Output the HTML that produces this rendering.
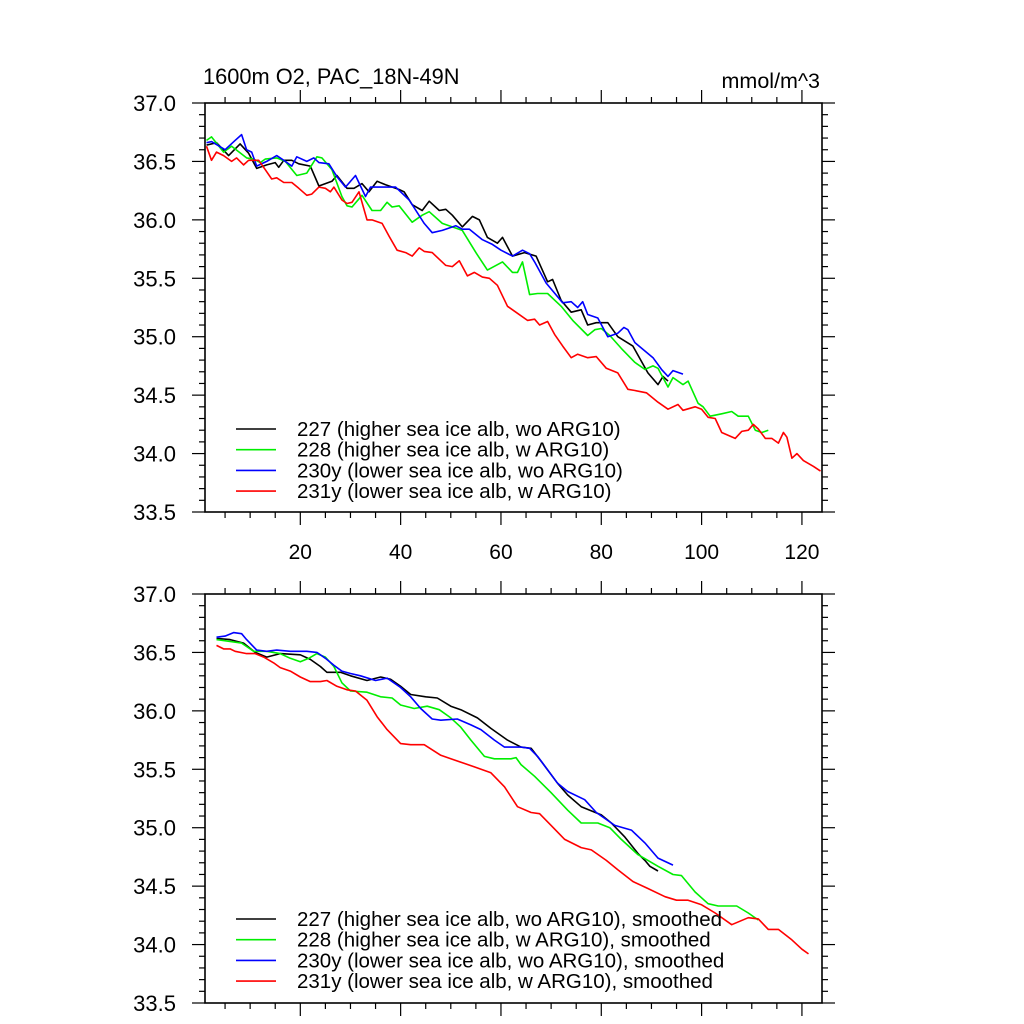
<!DOCTYPE html>
<html><head><meta charset="utf-8"><style>
html,body{margin:0;padding:0;background:#fff;}
svg{display:block;font-family:"Liberation Sans",Helvetica,sans-serif;}
</style></head><body>
<svg id="chart" width="1024" height="1024" viewBox="0 0 1024 1024" xmlns="http://www.w3.org/2000/svg"></svg>
<script>
// ---- data: [x, value] pairs ----
const top227 = [[1.3,36.64],[3.3,36.66],[5.7,36.55],[8,36.65],[9.7,36.57],[11.3,36.44],[13.3,36.47],[15,36.49],[15.7,36.45],[16.7,36.51],[18.3,36.51],[19.7,36.48],[22,36.46],[23.7,36.29],[26.3,36.33],[27.3,36.38],[29.3,36.27],[30.7,36.27],[32.3,36.31],[33.7,36.24],[35.3,36.33],[37,36.30],[39.7,36.26],[40.7,36.24],[42.3,36.13],[44.3,36.08],[45.7,36.16],[47.7,36.08],[49,36.09],[50.3,36.04],[52.3,35.94],[54.3,36.03],[55.7,36.0],[57.3,35.85],[59.3,35.80],[60.3,35.85],[62.3,35.69],[64.7,35.72],[67,35.69],[69.3,35.47],[70.3,35.49],[72,35.31],[74,35.21],[76,35.23],[77.3,35.10],[79,35.12],[81.3,35.12],[83.3,35.0],[86.3,34.92],[89.3,34.69],[91.3,34.59],[92.3,34.66],[93.3,34.62]];
const top228 = [[1.3,36.68],[2.3,36.71],[4.7,36.58],[6.3,36.63],[9.3,36.53],[10.7,36.52],[12,36.49],[13,36.52],[15.3,36.53],[17,36.50],[19.3,36.38],[21.3,36.40],[23.3,36.54],[24.3,36.53],[26.3,36.43],[28.3,36.20],[29.3,36.12],[30.3,36.11],[32.3,36.21],[34.3,36.08],[36,36.08],[37.3,36.15],[38.3,36.11],[39.7,36.12],[42.3,35.98],[44.3,36.04],[45.7,36.07],[48.3,35.97],[50.3,35.94],[52.3,35.91],[55,35.72],[57.3,35.57],[60.3,35.64],[62.3,35.55],[63.3,35.55],[64.3,35.64],[65.7,35.36],[67.3,35.37],[69.3,35.37],[72,35.26],[74.3,35.14],[77.3,35.01],[78.7,35.06],[80,35.07],[81.7,35.01],[84,34.90],[86.7,34.78],[88.7,34.72],[90.3,34.75],[91.3,34.73],[93.3,34.57],[94.3,34.65],[96.3,34.59],[97.3,34.62],[99.3,34.43],[100.3,34.40],[101.7,34.32],[104,34.34],[106,34.36],[107.3,34.32],[109.3,34.32],[110.7,34.20],[112,34.18],[113.3,34.20]];
const top230 = [[1.3,36.66],[2.3,36.67],[5,36.60],[7,36.68],[8.3,36.73],[9.3,36.60],[10.3,36.58],[11.3,36.46],[13.3,36.50],[15.3,36.55],[16.7,36.51],[18.3,36.46],[19.3,36.54],[21.3,36.50],[22.7,36.53],[23.7,36.49],[25.7,36.48],[27.3,36.37],[29,36.28],[31,36.38],[33,36.20],[34,36.28],[39,36.28],[41.7,36.17],[44.7,35.97],[46.3,35.89],[48.3,35.91],[51,35.95],[52.3,35.92],[53.7,35.92],[56.3,35.83],[58.3,35.79],[60,35.74],[62.3,35.69],[64.3,35.74],[65.7,35.71],[66.7,35.64],[69,35.46],[72.3,35.29],[74,35.30],[75.3,35.25],[76.3,35.30],[77.3,35.19],[79.3,35.16],[81.3,35.0],[83.3,35.03],[84.5,35.08],[85.3,35.06],[86.7,34.95],[90.3,34.82],[92,34.72],[93.3,34.66],[94.3,34.71],[96.3,34.68]];
const top231 = [[1.3,36.63],[2.3,36.51],[3.3,36.58],[4.7,36.55],[6.3,36.50],[7.3,36.53],[8.7,36.47],[9.7,36.51],[11.7,36.51],[13,36.43],[14.3,36.35],[15.3,36.36],[16.7,36.32],[18.3,36.32],[19.7,36.27],[21.3,36.21],[22.3,36.22],[23.7,36.28],[25,36.27],[26,36.24],[26.7,36.28],[28.3,36.17],[29.3,36.14],[30.3,36.15],[31.7,36.24],[33.3,36.0],[34.3,36.0],[36.3,35.97],[37.7,35.86],[39.3,35.74],[41,35.72],[42.3,35.69],[43.7,35.76],[44.7,35.73],[46.3,35.72],[49,35.61],[50.3,35.60],[51.7,35.65],[53.3,35.52],[54.7,35.55],[56.3,35.51],[57.7,35.50],[59.3,35.44],[61.3,35.26],[63.3,35.20],[65.3,35.14],[66.7,35.15],[67.7,35.10],[69.3,35.13],[70.7,35.02],[72.3,34.92],[74,34.82],[75.3,34.85],[77.3,34.82],[79,34.83],[81,34.73],[83.3,34.69],[85.3,34.55],[86.7,34.54],[89,34.52],[91.3,34.44],[93.3,34.38],[95.3,34.42],[96.3,34.37],[98.7,34.40],[100,34.38],[101.3,34.31],[102.7,34.30],[104,34.18],[106.7,34.13],[108,34.19],[109.3,34.20],[110.3,34.25],[111.3,34.21],[112.7,34.13],[114,34.13],[115.3,34.09],[116.3,34.18],[117,34.14],[118,33.96],[119,34.0],[120.3,33.94],[122.3,33.89],[123.7,33.85]];
const bot227 = [[3.3,36.62],[6,36.61],[8.7,36.58],[11,36.50],[13.3,36.46],[16,36.49],[20,36.48],[22,36.44],[24,36.38],[25.3,36.33],[28,36.33],[30,36.30],[33.3,36.26],[36,36.29],[38,36.27],[40,36.21],[42,36.14],[45,36.12],[47.3,36.11],[50,36.04],[52,36.01],[55.3,35.94],[58,35.85],[61.3,35.75],[64,35.69],[66,35.68],[68,35.57],[71.3,35.38],[73.3,35.28],[76,35.18],[80,35.11],[82,35.04],[84.7,34.92],[87.3,34.78],[88.7,34.72],[89.7,34.67],[91.3,34.63]];
const bot228 = [[3.3,36.61],[6.7,36.59],[8.3,36.58],[10.7,36.51],[13.3,36.51],[16,36.49],[18,36.45],[20,36.42],[21.7,36.45],[23.3,36.49],[25,36.46],[26.7,36.38],[28.3,36.24],[30,36.17],[33.3,36.16],[36,36.12],[38.3,36.11],[40,36.05],[42.7,36.02],[45.3,36.04],[47.7,36.01],[50,35.94],[52,35.86],[54,35.75],[56.7,35.61],[58.7,35.59],[62,35.59],[63,35.60],[64,35.54],[66.7,35.44],[70,35.30],[73.3,35.15],[76,35.04],[79.3,35.04],[81.7,35.0],[84,34.90],[87.3,34.77],[91.3,34.67],[94.3,34.60],[96,34.59],[98.7,34.45],[101.3,34.35],[103.3,34.33],[107,34.33],[109.3,34.27],[111.3,34.21]];
const bot230 = [[3.3,36.63],[5,36.64],[6.7,36.67],[8.3,36.66],[9.3,36.61],[11.3,36.52],[13.3,36.51],[15.3,36.52],[18,36.51],[21.3,36.51],[23.3,36.50],[25,36.45],[26.7,36.39],[28.3,36.34],[30,36.32],[32,36.30],[35,36.26],[37.3,36.28],[40,36.20],[42,36.12],[44,36.02],[46.3,35.93],[48,35.92],[51.3,35.93],[54,35.88],[56,35.84],[58.7,35.75],[60.7,35.69],[64,35.69],[65.7,35.68],[67.3,35.61],[71.3,35.38],[73.3,35.31],[76.7,35.24],[79,35.13],[82.7,35.02],[86,34.98],[88.7,34.87],[91.3,34.74],[94.3,34.68]];
const bot231 = [[3.3,36.56],[4.7,36.53],[6,36.53],[7,36.51],[9.3,36.49],[11,36.49],[12.7,36.46],[14.7,36.41],[16,36.37],[18,36.34],[20,36.29],[22,36.25],[24,36.25],[25.3,36.26],[27.3,36.21],[29.3,36.18],[31,36.17],[33.3,36.09],[35.3,35.95],[37.3,35.84],[40,35.72],[42,35.71],[44.7,35.71],[48,35.62],[50,35.59],[52.7,35.55],[54.7,35.52],[58,35.47],[60.7,35.35],[63.3,35.18],[66,35.13],[67.7,35.12],[70,35.02],[72.7,34.90],[76,34.83],[78,34.81],[81,34.72],[83.3,34.64],[86.3,34.54],[89.3,34.48],[92.7,34.41],[95,34.38],[97.3,34.38],[100,34.34],[102.7,34.27],[106,34.17],[109.3,34.23],[111.3,34.22],[113.3,34.13],[115.3,34.13],[118,34.04],[120,33.96],[121.3,33.92]];
const yTickLabels = ["33.5","34.0","34.5","35.0","35.5","36.0","36.5","37.0"];
const xTickLabels = ["20","40","60","80","100","120"];
const topLegend = ["227 (higher sea ice alb, wo ARG10)","228 (higher sea ice alb, w ARG10)","230y (lower sea ice alb, wo ARG10)","231y (lower sea ice alb, w ARG10)"];
const botLegend = ["227 (higher sea ice alb, wo ARG10), smoothed","228 (higher sea ice alb, w ARG10), smoothed","230y (lower sea ice alb, wo ARG10), smoothed","231y (lower sea ice alb, w ARG10), smoothed"];
const colors = ["#000000","#00ee00","#0000ff","#ff0000"];

const NS = "http://www.w3.org/2000/svg";
const svg = document.getElementById("chart");
const XMIN = 1, XMAX = 124, YMIN = 33.5, YMAX = 37.0;
const L = 205, R = 822;
function xs(u){ return L + (u - XMIN) * (R - L) / (XMAX - XMIN); }
function mk(tag, attrs, parent){ const e = document.createElementNS(NS, tag); for (const k in attrs) e.setAttribute(k, attrs[k]); (parent||svg).appendChild(e); return e; }

function panel(top, bottom, series, legend, legendY, showXLabels, pname){
  const g = mk("g", {});
  
  
  const ys = v => bottom - (v - YMIN) * (bottom - top) / (YMAX - YMIN);
  for (let i = 0; i <= 35; i++) {
    const v = YMIN + i * 0.1, y = ys(v), major = i % 5 === 0, len = major ? 13 : 6;
    mk("line", {x1:L-len, y1:y, x2:L, y2:y, stroke:"#000", "stroke-width":1.2}, g);
    mk("line", {x1:R, y1:y, x2:R+len, y2:y, stroke:"#000", "stroke-width":1.2}, g);
  }
  for (let u = 5; u <= 120; u += 5) {
    const x = xs(u), major = u % 20 === 0, len = major ? 13 : 6;
    mk("line", {x1:x, y1:top-len, x2:x, y2:top, stroke:"#000", "stroke-width":1.2}, g);
    mk("line", {x1:x, y1:bottom, x2:x, y2:bottom+len, stroke:"#000", "stroke-width":1.2}, g);
  }
  const frame = mk("rect", {x:L, y:top, width:R-L, height:bottom-top, fill:"none", stroke:"#000", "stroke-width":1.6}, g);
  
  
  yTickLabels.forEach((t, i) => {
    const el = mk("text", {x:176, y:ys(YMIN + i*0.5) + 8, "text-anchor":"end", "font-size":22}, g);
    el.textContent = t;
    
    
  });
  if (showXLabels) xTickLabels.forEach((t, i) => {
    const el = mk("text", {x:xs((i+1)*20), y:559, "text-anchor":"middle", "font-size":21}, g);
    el.textContent = t;
    
    
  });
  series.forEach((s, i) => {
    const p = mk("polyline", {points: s.map(d => xs(d[0]).toFixed(1)+","+ys(d[1]).toFixed(1)).join(" "), fill:"none", stroke:colors[i], "stroke-width":1.6, "stroke-linejoin":"round"}, g);
    
    
  });
  legend.forEach((t, i) => {
    const y = legendY + i * 20.7;
    const ln = mk("line", {x1:236, y1:y, x2:276, y2:y, stroke:colors[i], "stroke-width":1.6}, g);
    
    
    const tx = mk("text", {x:297, y:y+7, "font-size":20.5}, g);
    tx.textContent = t;
    
    
  });
}
panel(103, 512, [top227, top228, top230, top231], topLegend, 429, true, "top-panel");
panel(594, 1003, [bot227, bot228, bot230, bot231], botLegend, 919, false, "bottom-panel");

const title = mk("text", {x:203, y:84, "font-size":21.8});
title.textContent = "1600m O2, PAC_18N-49N";


const unit = mk("text", {x:820, y:88, "font-size":21.5, "text-anchor":"end"});
unit.textContent = "mmol/m^3";


</script>
</body></html>
